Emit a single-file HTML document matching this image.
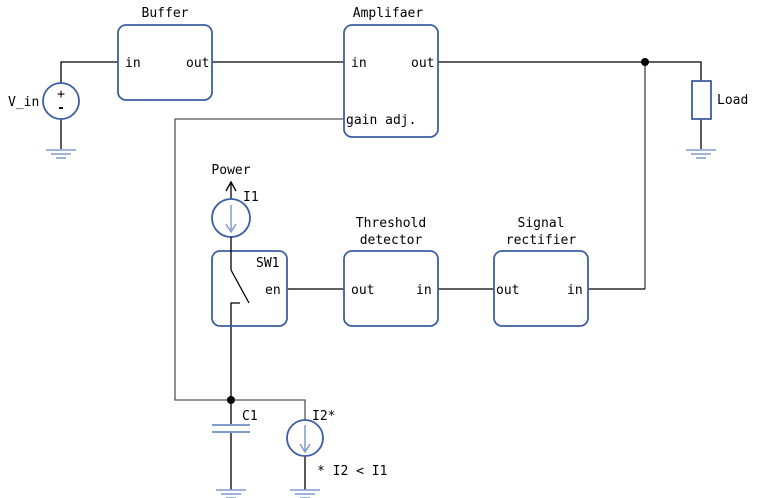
<!DOCTYPE html>
<html><head><meta charset="utf-8"><style>
html,body{margin:0;padding:0;background:#fff}
svg{display:block}
text{font-family:"DejaVu Sans Mono","Liberation Mono",monospace;font-size:13px;fill:#000}
</style></head><body>
<svg width="758" height="498" viewBox="0 0 758 498" xmlns="http://www.w3.org/2000/svg">
<g fill="none" stroke="#000" stroke-width="1.3">
<polyline points="61,83 61,62 118,62"/>
<line x1="212" y1="62" x2="344" y2="62"/>
<polyline points="438,62 701,62 701,81"/>
<line x1="61" y1="119" x2="61" y2="149"/>
<line x1="701" y1="119" x2="701" y2="149"/>
<polyline points="344,119 175,119 175,400 305,400 305,420" stroke="#555"/>
<line x1="645" y1="62" x2="645" y2="289" stroke="#666" stroke-width="1.6"/>
<polyline points="588,289 645,289"/>
<line x1="287" y1="289" x2="344" y2="289"/>
<line x1="438" y1="289" x2="494" y2="289"/>
<polyline points="240,303 231,303 231,425"/>
<line x1="231" y1="432" x2="231" y2="490"/>
<line x1="305" y1="456" x2="305" y2="490"/>
<line x1="231" y1="199" x2="231" y2="183"/>
<polyline points="226,191 231,182 236,191"/>
</g>
<circle cx="645" cy="62" r="4" fill="#000"/>
<circle cx="231" cy="400" r="4" fill="#000"/>
<g fill="#fff" stroke="#3b5ea5" stroke-width="1.8">
<rect x="118" y="25" width="94" height="75" rx="8"/>
<rect x="344" y="25" width="94" height="112" rx="8"/>
<rect x="212" y="251" width="75" height="75" rx="8" fill="none"/>
<rect x="344" y="251" width="94" height="75" rx="8"/>
<rect x="494" y="251" width="94" height="75" rx="8"/>
<rect x="692" y="81" width="19" height="38"/>
<circle cx="61" cy="101" r="18"/>
<circle cx="231" cy="218" r="19"/>
<circle cx="305" cy="438" r="18"/>
</g>
<g stroke="#000" stroke-width="1.3" fill="none">
<line x1="231" y1="237" x2="231" y2="270"/>
<line x1="231" y1="270" x2="249" y2="303"/>
</g>
<g stroke="#7f9ccb" stroke-width="1.5" fill="none">
<line x1="231" y1="205" x2="231" y2="232"/>
<polyline points="226,224 231,232 236,224"/>
<line x1="305" y1="425" x2="305" y2="452"/>
<polyline points="300,444 305,452 310,444"/>
<line x1="212" y1="425" x2="250" y2="425" stroke-width="2"/>
<line x1="212" y1="432" x2="250" y2="432" stroke-width="2"/>
<line x1="46" y1="150" x2="76" y2="150"/><line x1="51" y1="154" x2="71" y2="154"/><line x1="56" y1="158" x2="66" y2="158"/>
<line x1="686" y1="150" x2="716" y2="150"/><line x1="691" y1="154" x2="711" y2="154"/><line x1="696" y1="158" x2="706" y2="158"/>
<line x1="216" y1="490" x2="246" y2="490"/><line x1="221" y1="494" x2="241" y2="494"/><line x1="226" y1="498" x2="236" y2="498"/>
<line x1="290" y1="490" x2="320" y2="490"/><line x1="295" y1="494" x2="315" y2="494"/><line x1="300" y1="498" x2="310" y2="498"/>
</g>
<text x="165" y="17" text-anchor="middle">Buffer</text>
<text x="388" y="17" text-anchor="middle">Amplifaer</text>
<text x="125" y="67">in</text>
<text x="186" y="67">out</text>
<text x="351" y="67">in</text>
<text x="411" y="67">out</text>
<text x="346" y="124">gain adj.</text>
<text x="8" y="106">V_in</text>
<text x="61" y="98" text-anchor="middle">+</text>
<text x="61" y="112" text-anchor="middle" font-weight="bold">-</text>
<text x="717" y="104">Load</text>
<text x="231" y="174" text-anchor="middle">Power</text>
<text x="243" y="201">I1</text>
<text x="256" y="267">SW1</text>
<text x="265" y="294">en</text>
<text x="391" y="227" text-anchor="middle">Threshold</text>
<text x="391" y="244" text-anchor="middle">detector</text>
<text x="541" y="227" text-anchor="middle">Signal</text>
<text x="541" y="244" text-anchor="middle">rectifier</text>
<text x="351" y="294">out</text>
<text x="416" y="294">in</text>
<text x="496" y="294">out</text>
<text x="567" y="294">in</text>
<text x="242" y="420">C1</text>
<text x="312" y="420">I2*</text>
<text x="317" y="475">* I2 &lt; I1</text>
</svg>
</body></html>
